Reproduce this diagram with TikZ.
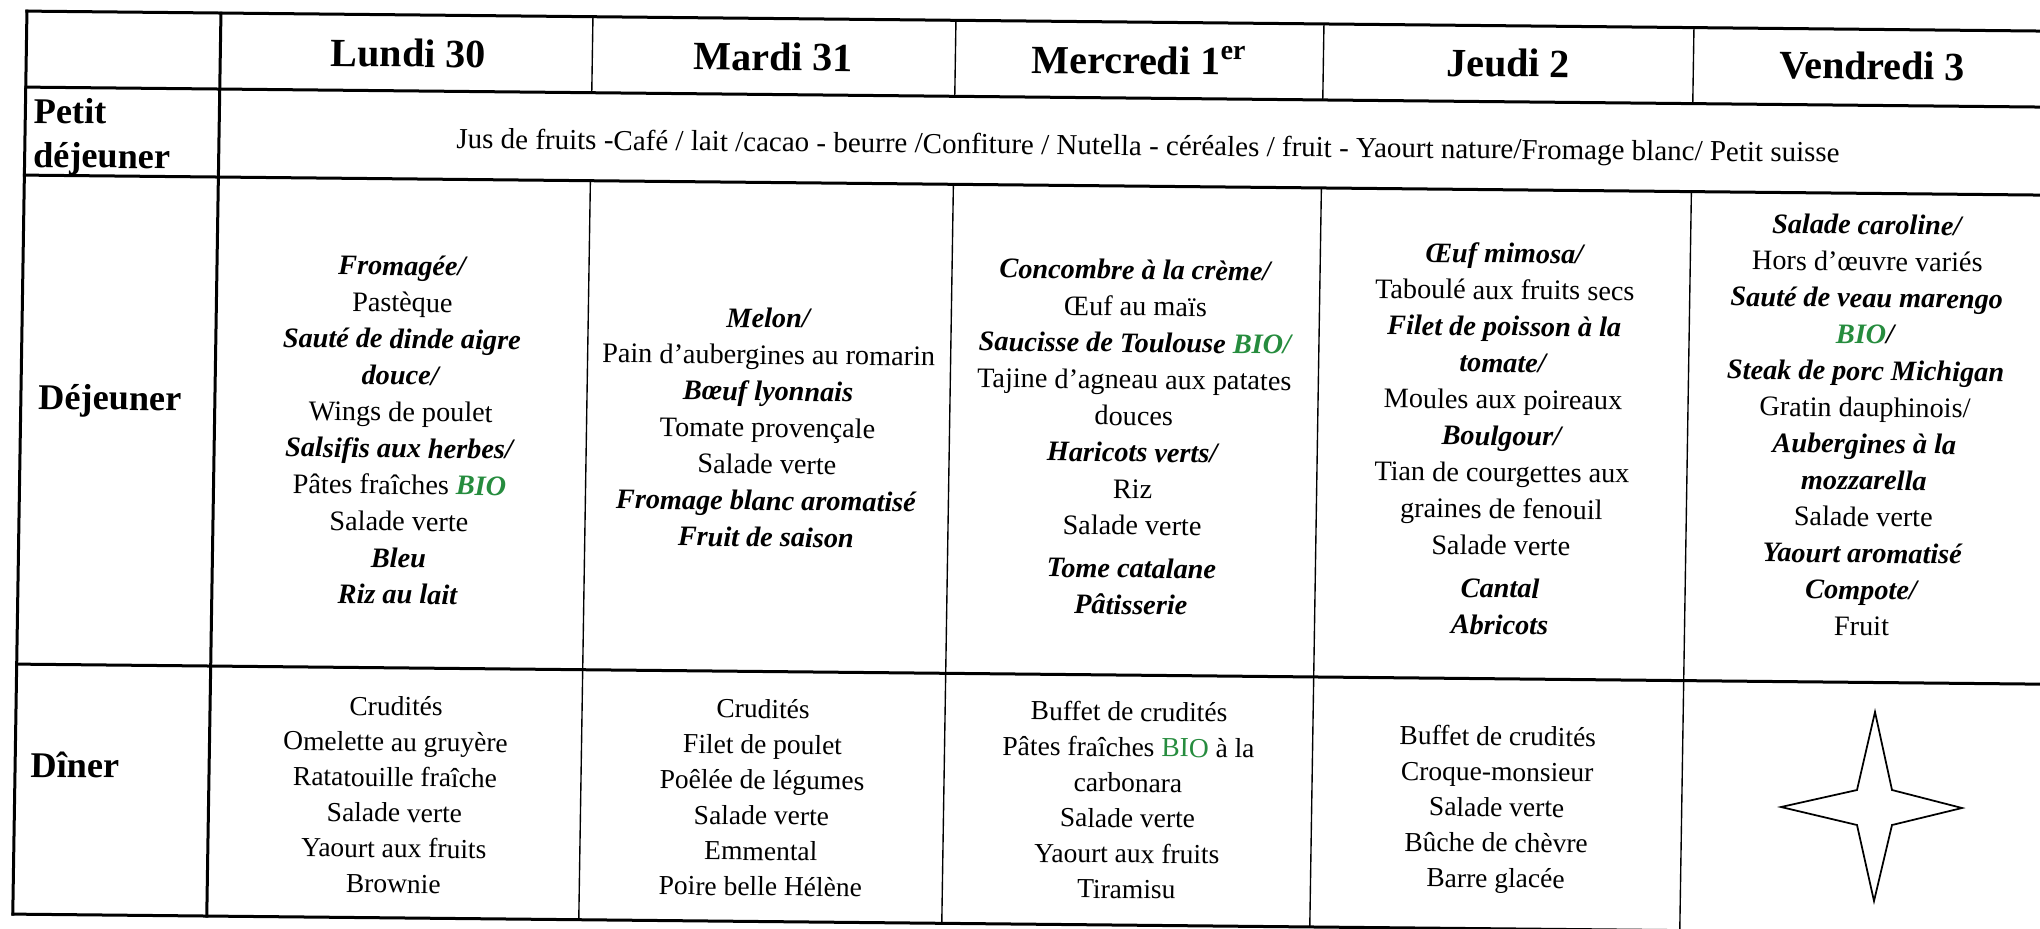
\documentclass[tikz,border=0pt]{standalone}
\usepackage{fontspec}
\setmainfont{Liberation Serif}
\definecolor{bio}{RGB}{38,140,62}
\newcommand{\bi}[1]{\textbf{\textit{#1}}}
\newcommand{\bioG}[1]{\textcolor{bio}{#1}}
\begin{document}
\begin{tikzpicture}[x=0.4pt,y=-0.4pt,
  thickrule/.style={line width=1.2pt,line cap=rect},
  thinrule/.style={line width=0.55pt},
  hdr/.style={font=\fontsize{16}{19}\selectfont\bfseries,anchor=base,inner sep=0pt},
  lbl/.style={font=\fontsize{14.5}{18}\selectfont\bfseries,anchor=base west,inner sep=0pt},
  dej/.style={font=\fontsize{11.3}{14.6}\selectfont,align=center,inner sep=0pt},
  brk/.style={font=\fontsize{11.6}{14.6}\selectfont,inner sep=0pt},
  din/.style={font=\fontsize{11}{14.2}\selectfont,align=center,inner sep=0pt},
  starline/.style={line width=0.7pt,line join=miter}
]
\useasboundingbox (0,0) rectangle (2040,928);
\fill[white] (0,0) rectangle (2040,928);
\begin{scope}[cm={1,-0.0099,0.0157,1,(2.914pt,4.039pt)},transform shape]
  % horizontal rules
  \draw[thickrule] (20,21) -- (2070,21);
  \draw[thickrule] (20,97) -- (2070,97);
  \draw[thickrule] (20,185) -- (2070,185);
  \draw[thickrule] (20,674) -- (2070,674);
  \draw[thickrule] (20,924) -- (2070,924);
  % vertical rules
  \draw[thickrule] (20,21) -- (20,924);
  \draw[thickrule] (214,21) -- (214,924);
  \foreach \cx in {586,949,1317,1687}{
    \draw[thinrule] (\cx,21) -- (\cx,97);
    \draw[thinrule] (\cx,185) -- (\cx,924);
  }
  % headers
  \node[hdr] (h1) at (402,73) {Lundi 30};
  \node[hdr] (h2) at (767,73) {Mardi 31};
  \node[hdr] (h3) at (1133,73) {Mercredi 1\textsuperscript{er}};
  \node[hdr] (h4) at (1502,72) {Jeudi 2};
  \node[hdr] (h5) at (1866,71) {Vendredi 3};
  % row labels
  \node[lbl] (lp1) at (28,133) {Petit};
  \node[lbl] (lp2) at (28,177) {déjeuner};
  \node[lbl] (ld) at (37,419) {Déjeuner};
  \node[lbl] (ln) at (35,787) {Dîner};
  % breakfast
  \node[brk] (pd) at (1143,147) {Jus de fruits -Café / lait /cacao - beurre /Confiture / Nutella - céréales / fruit - Yaourt nature/Fromage blanc/ Petit suisse};
  % lunch
  \node[dej] (d1) at (400,436) {\bi{Fromagée/}\\ Pastèque\\ \bi{Sauté de dinde aigre}\\ \bi{douce/}\\ Wings de poulet\\ \bi{Salsifis aux herbes/}\\ Pâtes fraîches \bi{\bioG{BIO}}\\ Salade verte\\ \bi{Bleu}\\ \bi{Riz au lait}};
  \node[dej] (d2) at (767,430) {\bi{Melon/}\\ Pain d’aubergines au romarin\\ \bi{Bœuf lyonnais}\\ Tomate provençale\\ Salade verte\\ \bi{Fromage blanc aromatisé}\\ \bi{Fruit de saison}};
  \node[dej] (d3) at (1133,436) {\bi{Concombre à la crème/}\\ Œuf au maïs\\ \bi{Saucisse de Toulouse \bioG{BIO/}}\\ Tajine d’agneau aux patates\\ douces\\ \bi{Haricots verts/}\\ Riz\\ Salade verte\\[2.6pt] \bi{Tome catalane}\\ \bi{Pâtisserie}};
  \node[dej] (d4) at (1502,434) {\bi{Œuf mimosa/}\\ Taboulé aux fruits secs\\ \bi{Filet de poisson à la}\\ \bi{tomate/}\\ Moules aux poireaux\\ \bi{Boulgour/}\\ Tian de courgettes aux\\ graines de fenouil\\ Salade verte\\[2.6pt] \bi{Cantal}\\ \bi{Abricots}};
  \node[dej] (d5) at (1864,417) {\bi{Salade caroline/}\\ Hors d’œuvre variés\\ \bi{Sauté de veau marengo}\\ \bi{\bioG{BIO}/}\\ \bi{Steak de porc Michigan}\\ Gratin dauphinois/\\ \bi{Aubergines à la}\\ \bi{mozzarella}\\ Salade verte\\ \bi{Yaourt aromatisé}\\ \bi{Compote/}\\ Fruit};
  % dinner
  \node[din] (n1) at (400,801) {Crudités\\ Omelette au gruyère\\ Ratatouille fraîche\\ Salade verte\\ Yaourt aux fruits\\ Brownie};
  \node[din] (n2) at (767,800) {Crudités\\ Filet de poulet\\ Poêlée de légumes\\ Salade verte\\ Emmental\\ Poire belle Hélène};
  \node[din] (n3) at (1133,799) {Buffet de crudités\\ Pâtes fraîches \bioG{BIO} à la\\ carbonara\\ Salade verte\\ Yaourt aux fruits\\ Tiramisu};
  \node[din] (n4) at (1502,805) {Buffet de crudités\\ Croque-monsieur\\ Salade verte\\ Bûche de chèvre\\ Barre glacée};
\end{scope}
% four-pointed star
\draw[starline] (1875,712) -- (1892,790) -- (1962,808) -- (1892,825) -- (1874,901) -- (1857,825) -- (1781,807) -- (1857,790) -- cycle;
\end{tikzpicture}
\end{document}
